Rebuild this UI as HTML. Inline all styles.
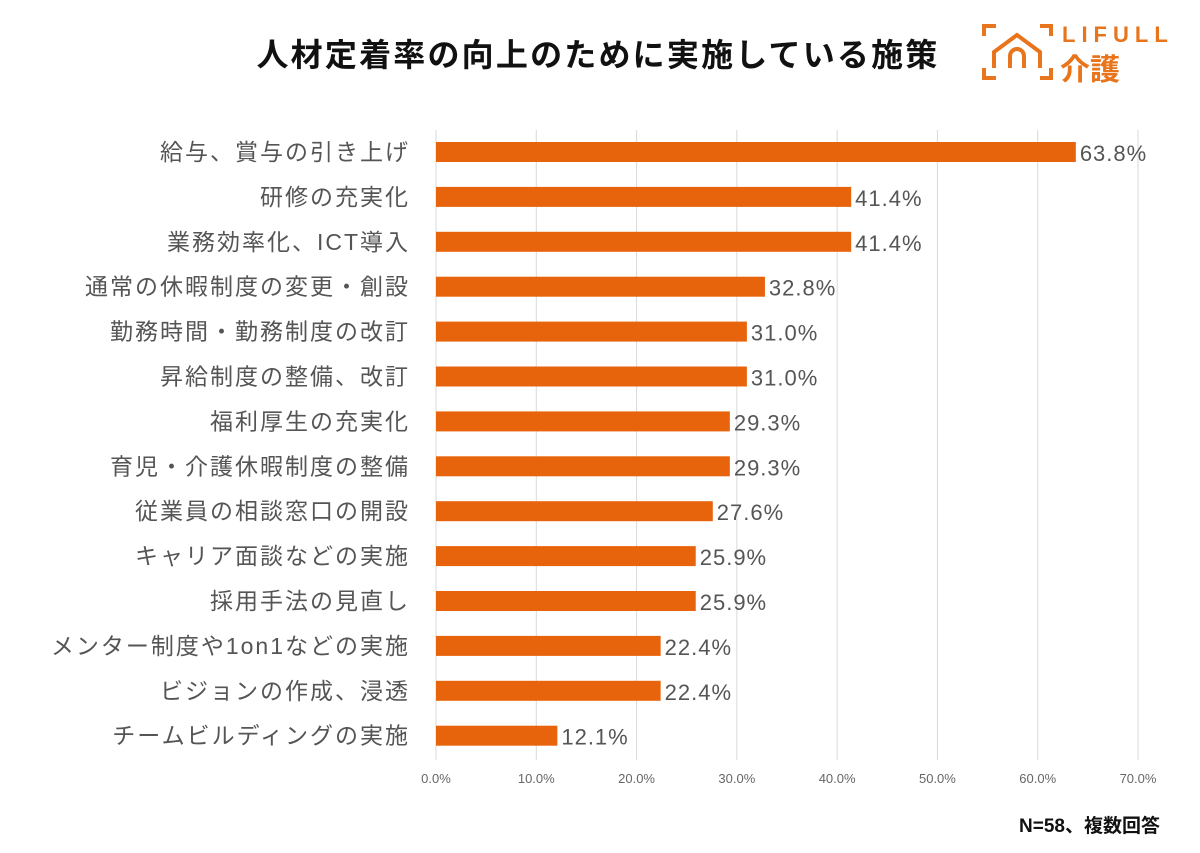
<!DOCTYPE html>
<html><head><meta charset="utf-8"><style>
body{margin:0;background:#fff;}
svg text{font-family:"Liberation Sans","Noto Sans CJK JP",sans-serif;}
</style></head><body>
<svg width="1200" height="848" viewBox="0 0 1200 848" xmlns="http://www.w3.org/2000/svg">
<text x="598" y="66" text-anchor="middle" font-size="32" font-weight="bold" fill="#111" letter-spacing="2.2">人材定着率の向上のために実施している施策</text>
<g fill="none" stroke="#E8741C" stroke-width="4">
<path d="M984 36 V26 H996 M1040 26 H1051 V36 M984 68 V78 H996 M1040 78 H1051 V68"/>
<path d="M994 68 V52 L1017 35 L1040 52 V68"/>
<path d="M1010 68 V56 a7 7 0 0 1 14 0 V68"/>
<text x="1062" y="42" font-size="22" font-weight="bold" fill="#E8741C" stroke="none" letter-spacing="6">LIFULL</text>
<text x="1060" y="80" font-size="30" font-weight="bold" fill="#E8741C" stroke="none">介護</text>
</g>
<g id="grid"></g><g id="bars"></g>
<text x="1160" y="832" text-anchor="end" font-size="19" font-weight="bold" fill="#111">N=58、複数回答</text>
</svg>
<script>
const categories=["給与、賞与の引き上げ","研修の充実化","業務効率化、ICT導入","通常の休暇制度の変更・創設","勤務時間・勤務制度の改訂","昇給制度の整備、改訂","福利厚生の充実化","育児・介護休暇制度の整備","従業員の相談窓口の開設","キャリア面談などの実施","採用手法の見直し","メンター制度や1on1などの実施","ビジョンの作成、浸透","チームビルディングの実施"];
const values=[63.8,41.4,41.4,32.8,31.0,31.0,29.3,29.3,27.6,25.9,25.9,22.4,22.4,12.1];
const ticks=[0,10,20,30,40,50,60,70];
const NS="http://www.w3.org/2000/svg";
const x0=436,x1=1138,xmax=70;
const X=v=>x0+(x1-x0)*v/xmax;
const Y=i=>152+i*44.9;
function mk(t,a,p){const e=document.createElementNS(NS,t);for(const k in a)e.setAttribute(k,a[k]);p.appendChild(e);return e;}
const g=document.getElementById('grid'),b=document.getElementById('bars');
ticks.forEach(t=>{
 const l=mk('line',{x1:X(t),x2:X(t),y1:130,y2:760,stroke:'#d9d9d9','stroke-width':1},g);
 
 
 const tx=mk('text',{x:X(t),y:783,'text-anchor':'middle','font-size':13,fill:'#666'},g);
 tx.textContent=t.toFixed(1)+'%';
 
 
});
categories.forEach((c,i)=>{
 const y=Y(i);
 const lab=mk('text',{x:410,y:y+8,'text-anchor':'end','font-size':23,'letter-spacing':2,fill:'#555'},b);
 lab.textContent=c;
 
 
 const r=mk('rect',{x:x0,y:y-10,width:X(values[i])-x0,height:20,fill:'#E8640C'},b);
 
 
 const v=mk('text',{x:X(values[i])+4,y:y+9,'font-size':22,'letter-spacing':1,fill:'#555'},b);
 v.textContent=values[i].toFixed(1)+'%';
 
 
});
</script>
</body></html>
